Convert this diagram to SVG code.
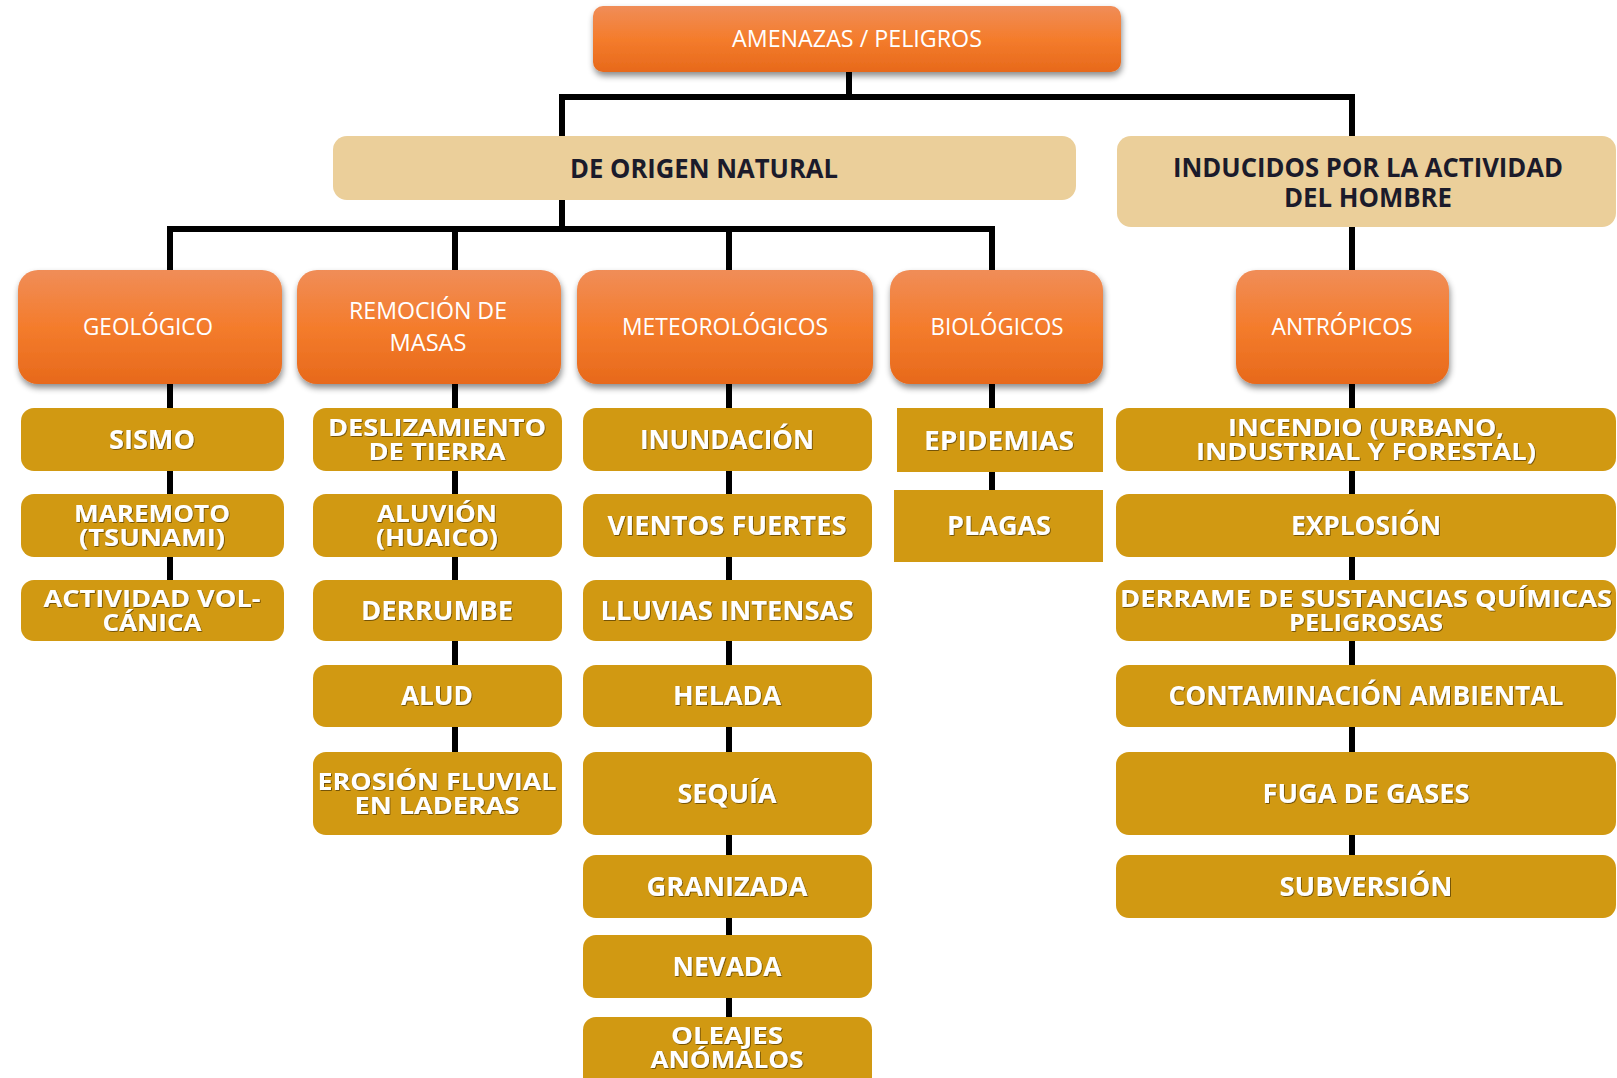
<svg xmlns="http://www.w3.org/2000/svg" width="1617" height="1078" viewBox="0 0 1617 1078">
<style>
.cat{fill:url(#og);filter:url(#sh)}
.hdr{fill:#EBCF9A}
.item{fill:#D19912}
.ct{font-family:"Open Sans","Liberation Sans",sans-serif;font-size:23px;fill:#fff;text-anchor:middle}
.ht{font-family:"Open Sans","Liberation Sans",sans-serif;font-size:26px;font-weight:bold;fill:#1b1b2b;text-anchor:middle}
.it{font-family:"Open Sans","Liberation Sans",sans-serif;font-size:26px;font-weight:bold;fill:#fff;text-anchor:middle;filter:url(#ts)}
.it2{font-family:"Open Sans","Liberation Sans",sans-serif;font-size:24px;font-weight:bold;fill:#fff;text-anchor:middle;filter:url(#ts)}
.cn{fill:none;stroke:#000;stroke-width:6;stroke-linejoin:miter}
</style>
<defs>
<linearGradient id="og" x1="0" y1="0" x2="0" y2="1">
<stop offset="0" stop-color="#F08D58"/>
<stop offset="0.5" stop-color="#F47C2C"/>
<stop offset="1" stop-color="#E7691B"/>
</linearGradient>
<filter id="sh" x="-10%" y="-10%" width="125%" height="135%">
<feDropShadow dx="1" dy="4" stdDeviation="3" flood-color="#000" flood-opacity="0.45"/>
</filter>
<filter id="ts" x="-5%" y="-20%" width="110%" height="140%">
<feDropShadow dx="0.8" dy="0.8" stdDeviation="0.6" flood-color="#3a2800" flood-opacity="0.75"/>
</filter>
</defs>
<rect width="1617" height="1078" fill="#fff"/>

<g id="connectors">
<path class="cn" d="M849 72 V97"/>
<path class="cn" d="M562 136 V97 H1352 V136"/>
<path class="cn" d="M562 200 V229"/>
<path class="cn" d="M170 270 V229 H992 V270"/>
<path class="cn" d="M455 229 V270"/>
<path class="cn" d="M729 229 V270"/>
<path class="cn" d="M1352 227 V270"/>
<path class="cn" d="M170 384 V580"/>
<path class="cn" d="M455 384 V752"/>
<path class="cn" d="M729 384 V1017"/>
<path class="cn" d="M992 384 V490"/>
<path class="cn" d="M1352 384 V855"/>
</g>

<g id="amenazas">
<rect class="cat" x="593" y="6" width="528" height="66" rx="10"/>
<text class="ct" x="857" y="47" textLength="250" lengthAdjust="spacingAndGlyphs">AMENAZAS / PELIGROS</text>
</g>

<g id="natural">
<rect class="hdr" x="333" y="136" width="743" height="64" rx="14"/>
<text class="ht" x="704" y="178" textLength="268" lengthAdjust="spacingAndGlyphs">DE ORIGEN NATURAL</text>
</g>

<g id="inducidos">
<rect class="hdr" x="1117" y="136" width="499" height="91" rx="14"/>
<text class="ht" x="1368" y="177" textLength="390" lengthAdjust="spacingAndGlyphs">INDUCIDOS POR LA ACTIVIDAD</text>
<text class="ht" x="1368" y="207" textLength="168" lengthAdjust="spacingAndGlyphs">DEL HOMBRE</text>
</g>

<g id="geologico">
<rect class="cat" x="18" y="270" width="264" height="114" rx="20"/>
<text class="ct" x="148" y="335" textLength="130" lengthAdjust="spacingAndGlyphs">GEOLÓGICO</text>
</g>
<g id="remocion">
<rect class="cat" x="297" y="270" width="264" height="114" rx="20"/>
<text class="ct" x="428" y="319" textLength="158" lengthAdjust="spacingAndGlyphs">REMOCIÓN DE</text>
<text class="ct" x="428" y="351" textLength="77" lengthAdjust="spacingAndGlyphs">MASAS</text>
</g>
<g id="meteorologicos">
<rect class="cat" x="577" y="270" width="296" height="114" rx="20"/>
<text class="ct" x="725" y="335" textLength="206" lengthAdjust="spacingAndGlyphs">METEOROLÓGICOS</text>
</g>
<g id="biologicos">
<rect class="cat" x="890" y="270" width="213" height="114" rx="20"/>
<text class="ct" x="997" y="335" textLength="133" lengthAdjust="spacingAndGlyphs">BIOLÓGICOS</text>
</g>
<g id="antropicos">
<rect class="cat" x="1236" y="270" width="213" height="114" rx="20"/>
<text class="ct" x="1342" y="335" textLength="141" lengthAdjust="spacingAndGlyphs">ANTRÓPICOS</text>
</g>

<g id="sismo">
<rect class="item" x="21" y="408" width="263" height="63" rx="13"/>
<text class="it" x="152" y="449" textLength="86" lengthAdjust="spacingAndGlyphs">SISMO</text>
</g>
<g id="maremoto">
<rect class="item" x="21" y="494" width="263" height="63" rx="13"/>
<text class="it2" x="152" y="522" textLength="156" lengthAdjust="spacingAndGlyphs">MAREMOTO</text>
<text class="it2" x="152" y="546" textLength="146" lengthAdjust="spacingAndGlyphs">(TSUNAMI)</text>
</g>
<g id="volcanica">
<rect class="item" x="21" y="580" width="263" height="61" rx="13"/>
<text class="it2" x="152" y="607" textLength="217" lengthAdjust="spacingAndGlyphs">ACTIVIDAD VOL-</text>
<text class="it2" x="152" y="631" textLength="99" lengthAdjust="spacingAndGlyphs">CÁNICA</text>
</g>

<g id="deslizamiento">
<rect class="item" x="313" y="408" width="249" height="63" rx="13"/>
<text class="it2" x="437" y="436" textLength="218" lengthAdjust="spacingAndGlyphs">DESLIZAMIENTO</text>
<text class="it2" x="437" y="460" textLength="137" lengthAdjust="spacingAndGlyphs">DE TIERRA</text>
</g>
<g id="aluvion">
<rect class="item" x="313" y="494" width="249" height="63" rx="13"/>
<text class="it2" x="437" y="522" textLength="120" lengthAdjust="spacingAndGlyphs">ALUVIÓN</text>
<text class="it2" x="437" y="546" textLength="122" lengthAdjust="spacingAndGlyphs">(HUAICO)</text>
</g>
<g id="derrumbe">
<rect class="item" x="313" y="580" width="249" height="61" rx="13"/>
<text class="it" x="437" y="620" textLength="152" lengthAdjust="spacingAndGlyphs">DERRUMBE</text>
</g>
<g id="alud">
<rect class="item" x="313" y="665" width="249" height="62" rx="13"/>
<text class="it" x="437" y="705" textLength="72" lengthAdjust="spacingAndGlyphs">ALUD</text>
</g>
<g id="erosion">
<rect class="item" x="313" y="752" width="249" height="83" rx="13"/>
<text class="it2" x="437" y="790" textLength="239" lengthAdjust="spacingAndGlyphs">EROSIÓN FLUVIAL</text>
<text class="it2" x="437" y="814" textLength="165" lengthAdjust="spacingAndGlyphs">EN LADERAS</text>
</g>

<g id="inundacion">
<rect class="item" x="583" y="408" width="289" height="63" rx="13"/>
<text class="it" x="727" y="449" textLength="174" lengthAdjust="spacingAndGlyphs">INUNDACIÓN</text>
</g>
<g id="vientos">
<rect class="item" x="583" y="494" width="289" height="63" rx="13"/>
<text class="it" x="727" y="535" textLength="239" lengthAdjust="spacingAndGlyphs">VIENTOS FUERTES</text>
</g>
<g id="lluvias">
<rect class="item" x="583" y="580" width="289" height="61" rx="13"/>
<text class="it" x="727" y="620" textLength="253" lengthAdjust="spacingAndGlyphs">LLUVIAS INTENSAS</text>
</g>
<g id="helada">
<rect class="item" x="583" y="665" width="289" height="62" rx="13"/>
<text class="it" x="727" y="705" textLength="108" lengthAdjust="spacingAndGlyphs">HELADA</text>
</g>
<g id="sequia">
<rect class="item" x="583" y="752" width="289" height="83" rx="13"/>
<text class="it" x="727" y="803" textLength="99" lengthAdjust="spacingAndGlyphs">SEQUÍA</text>
</g>
<g id="granizada">
<rect class="item" x="583" y="855" width="289" height="63" rx="13"/>
<text class="it" x="727" y="896" textLength="161" lengthAdjust="spacingAndGlyphs">GRANIZADA</text>
</g>
<g id="nevada">
<rect class="item" x="583" y="935" width="289" height="63" rx="13"/>
<text class="it" x="727" y="976" textLength="109" lengthAdjust="spacingAndGlyphs">NEVADA</text>
</g>
<g id="oleajes">
<rect class="item" x="583" y="1017" width="289" height="75" rx="13"/>
<text class="it2" x="727" y="1044" textLength="112" lengthAdjust="spacingAndGlyphs">OLEAJES</text>
<text class="it2" x="727" y="1068" textLength="153" lengthAdjust="spacingAndGlyphs">ANÓMALOS</text>
</g>

<g id="epidemias">
<rect class="item" x="897" y="408" width="206" height="64"/>
<text class="it" x="999" y="450" textLength="150" lengthAdjust="spacingAndGlyphs">EPIDEMIAS</text>
</g>
<g id="plagas">
<rect class="item" x="894" y="490" width="209" height="72"/>
<text class="it" x="999" y="535" textLength="104" lengthAdjust="spacingAndGlyphs">PLAGAS</text>
</g>

<g id="incendio">
<rect class="item" x="1116" y="408" width="500" height="63" rx="13"/>
<text class="it2" x="1366" y="436" textLength="276" lengthAdjust="spacingAndGlyphs">INCENDIO (URBANO,</text>
<text class="it2" x="1366" y="460" textLength="340" lengthAdjust="spacingAndGlyphs">INDUSTRIAL Y FORESTAL)</text>
</g>
<g id="explosion">
<rect class="item" x="1116" y="494" width="500" height="63" rx="13"/>
<text class="it" x="1366" y="535" textLength="150" lengthAdjust="spacingAndGlyphs">EXPLOSIÓN</text>
</g>
<g id="derrame">
<rect class="item" x="1116" y="580" width="500" height="61" rx="13"/>
<text class="it2" x="1366" y="607" textLength="492" lengthAdjust="spacingAndGlyphs">DERRAME DE SUSTANCIAS QUÍMICAS</text>
<text class="it2" x="1366" y="631" textLength="154" lengthAdjust="spacingAndGlyphs">PELIGROSAS</text>
</g>
<g id="contaminacion">
<rect class="item" x="1116" y="665" width="500" height="62" rx="13"/>
<text class="it" x="1366" y="705" textLength="395" lengthAdjust="spacingAndGlyphs">CONTAMINACIÓN AMBIENTAL</text>
</g>
<g id="fuga">
<rect class="item" x="1116" y="752" width="500" height="83" rx="13"/>
<text class="it" x="1366" y="803" textLength="207" lengthAdjust="spacingAndGlyphs">FUGA DE GASES</text>
</g>
<g id="subversion">
<rect class="item" x="1116" y="855" width="500" height="63" rx="13"/>
<text class="it" x="1366" y="896" textLength="173" lengthAdjust="spacingAndGlyphs">SUBVERSIÓN</text>
</g>
</svg>
